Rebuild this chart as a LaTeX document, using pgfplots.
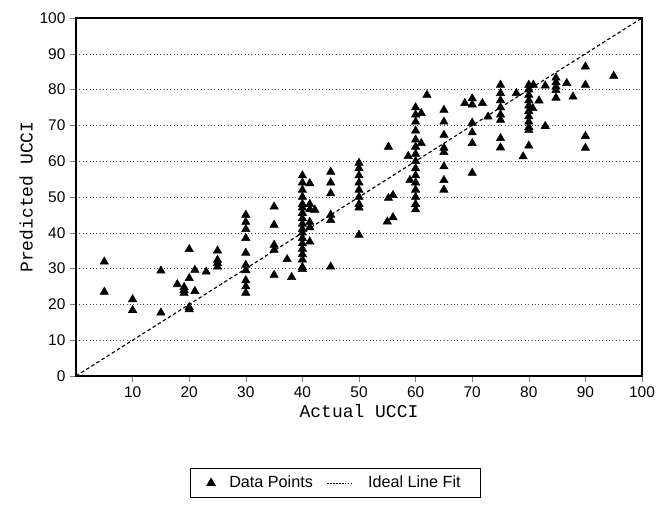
\documentclass[border=0pt]{standalone}
\usepackage{fontspec}
\setmainfont{Liberation Sans}
\setmonofont{Liberation Mono}
\usepackage{pgfplots}
\pgfplotsset{compat=1.18}

\begin{document}
\begin{tikzpicture}
  \begin{axis}[
      scale only axis,
      width=14.15cm, height=8.95cm,
      xmin=0, xmax=100, ymin=0, ymax=100,
      xtick={10,20,...,100},
      ytick={0,10,...,100},
      tick align=outside,
      xtick pos=bottom, ytick pos=left,
      major tick length=4pt,
      /pgf/number format/assume math mode=true,
      tick label style={font=\fontsize{11}{12}\selectfont},
      ymajorgrids=true,
      grid style={black!70, dotted, line width=0.4pt},
      axis line style={black, line width=0.8pt},
      xlabel={\fontsize{12.8}{14}\ttfamily Actual UCCI},
      ylabel={\fontsize{12.8}{14}\ttfamily Predicted UCCI},
      xlabel style={yshift=2pt},
      ylabel style={yshift=-2pt},
      legend columns=2,
      legend style={at={(0.458,-0.257)}, anchor=north, draw=black,
        line width=0.6pt, font=\fontsize{11.5}{13}\selectfont,
        column sep=8pt, inner xsep=12pt, inner ysep=3.5pt},
    ]
    \addplot[only marks, mark=triangle*, mark size=3.4pt, black]
      table {
x y
5 31.9
5 23.5
10 21.4
10 18.4
15 29.4
15 17.7
17.9 25.6
19.1 24.8
19.1 24.0
19.1 23.2
20 35.4
20 27.3
20 19.2
20 18.6
21 29.6
21 23.7
23 29.1
25 35.0
25 32.4
25 31.5
25 30.5
30 45.0
30 43.0
30 41.0
30 38.5
30 34.4
30 31.0
30 29.5
30 26.7
30 25.0
30 23.2
35 47.3
35 42.2
35 36.6
35 35.2
35 28.2
37.3 32.6
38.1 27.6
40 56.0
40 54.0
40 52.0
40 50.0
40 48.0
40 47.0
40 45.5
40 44.0
40 42.5
40 41.0
40 40.0
40 38.5
40 37.0
40 35.5
40 34.0
40 32.5
40 30.4
40 29.8
41.3 53.8
41.3 48.0
41.3 46.5
41.3 43.0
41.3 41.5
41.3 37.5
42.2 46.4
45 57.0
45 54.0
45 51.0
45 45.0
45 43.5
45 30.5
50 59.5
50 58.0
50 56.0
50 54.0
50 52.0
50 50.0
50 48.0
50 47.0
50 39.4
55.2 64.0
55.2 49.7
56 50.5
55 43.1
56 44.3
58.7 61.4
59 54.7
60 75.0
60 73.0
60 71.0
60 68.5
60 66.0
60 64.0
60 62.0
60 60.0
60 58.0
60 56.0
60 54.0
60 52.0
60 50.0
60 48.0
60 46.5
61 73.4
61 65.0
62 78.5
65 74.3
65 71.0
65 67.3
65 63.7
65 62.5
65 58.5
65 54.7
65 52.0
68.7 76.2
70 77.5
70 75.8
70 70.7
70 68.0
70 65.0
70 56.7
71.8 76.2
72.8 72.4
75 81.3
75 79.0
75 77.0
75 75.0
75 73.0
75 71.5
75 66.4
75 63.8
77.8 79.0
79 61.3
80 81.3
80 80.0
80 78.5
80 77.0
80 75.5
80 74.0
80 72.5
80 71.0
80 69.5
80 68.7
80 64.3
80.7 74.8
80.8 81.3
81.8 76.9
82.9 81.1
82.9 69.8
84.8 83.3
84.8 82.0
84.8 80.8
84.8 79.8
84.8 77.7
86.7 81.8
87.8 78.0
90 86.4
90 81.3
90 67.0
90 63.7
95 83.8
      };
    \addlegendentry{Data Points}
    \addplot[black, line width=0.8pt, dash pattern=on 2.5pt off 1.8pt,
      legend image code/.code={
        \draw[black, line width=0.8pt, dash pattern=on 0.9pt off 1.2pt]
          (0cm,0cm) -- (0.65cm,0cm);}]
      coordinates {(0,0) (100,100)};
    \addlegendentry{Ideal Line Fit}
    \coordinate (bl) at (rel axis cs:-0.1343,-0.3603);
    \coordinate (tr) at (rel axis cs:1.0318,1.0503);
  \end{axis}
  \pgfresetboundingbox
  \path[use as bounding box] (bl) rectangle (tr);
\end{tikzpicture}
\end{document}
